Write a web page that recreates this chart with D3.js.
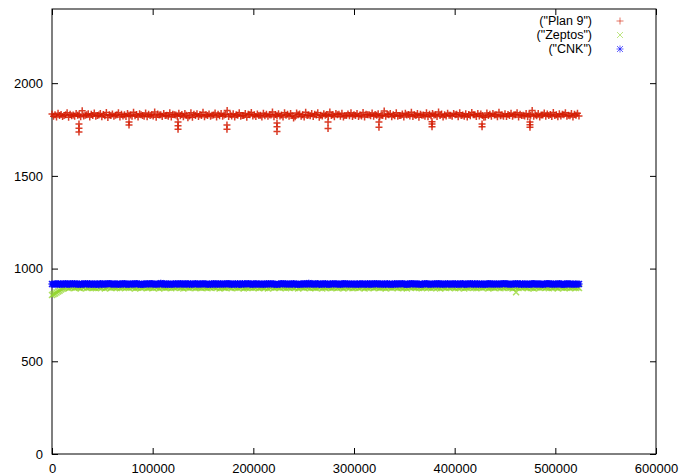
<!DOCTYPE html>
<html>
<head>
<meta charset="utf-8">
<script src="https://d3js.org/d3.v7.min.js"></script>
<style>
html,body{margin:0;padding:0;background:#fff;}
svg{display:block;}
text{font-family:"Liberation Sans",Arial,Helvetica,sans-serif;}
</style>
</head>
<body>
<svg id="chart" width="679" height="476"></svg>
<script>
// ---- data ----
const seriesNames = ['("Plan 9")', '("Zeptos")', '("CNK")'];
const xTicks = [0, 100000, 200000, 300000, 400000, 500000, 600000];
const yTicks = [0, 500, 1000, 1500, 2000];
// sample positions (iteration number): set A every 3000 from 0, set B every 3000 from 1500
const iterationsA = d3.range(0, 522001, 3000);
const iterationsB = d3.range(1500, 523501, 3000);

const plan9A = [
1834,1829,1838,1831,1826,1841,1833,1828,1836,1830,1851,1827,1835,1832,1839,1825,1837,1831,1842,1829,1834,1827,1840,1833,1830,
1836,1828,1843,1831,1835,1826,1839,1832,1829,1845,1834,1830,1837,1827,1841,1833,1828,1838,1831,1836,1814,1840,1832,1835,1829,
1843,1830,1834,1827,1839,1833,1837,1828,1853,1831,1835,1829,1840,1826,1836,1832,1842,1830,1834,1827,1838,1833,1829,1844,1831,
1835,1828,1841,1832,1837,1812,1839,1834,1830,1843,1828,1836,1833,1840,1827,1835,1831,1845,1829,1837,1832,1838,1826,1834,1841,
1830,1836,1828,1842,1833,1829,1839,1831,1835,1827,1850,1832,1837,1830,1840,1826,1834,1838,1831,1843,1829,1836,1833,1828,1841,
1832,1837,1829,1845,1834,1830,1838,1827,1836,1833,1840,1828,1835,1831,1842,1829,1837,1834,1816,1839,1832,1836,1830,1843,1828,
1835,1831,1838,1829,1841,1833,1827,1837,1832,1852,1830,1836,1828,1839,1834,1831,1842,1829,1835,1833,1840,1827,1836,1832,1838
];
const plan9B = [
1822,1818,1826,1820,1829,1816,1824,1821,1827,1819,1823,1830,1817,1825,1821,1828,1819,1824,1815,1826,1822,1829,1818,1823,1820,
1827,1821,1824,1817,1830,1822,1819,1826,1823,1816,1828,1820,1825,1822,1818,1829,1821,1824,1819,1827,1823,1816,1826,1820,1825,
1819,1826,1822,1828,1817,1824,1821,1831,1820,1823,1818,1827,1822,1825,1816,1829,1823,1820,1826,1818,1824,1821,1828,1819,1825,
1823,1817,1827,1821,1825,1819,1830,1822,1818,1826,1824,1820,1828,1816,1823,1827,1821,1825,1819,1829,1822,1818,1826,1824,1820,
1826,1820,1823,1818,1829,1824,1821,1827,1817,1825,1822,1830,1819,1824,1821,1826,1818,1828,1823,1820,1825,1816,1827,1822,1819,
1824,1828,1820,1825,1818,1823,1827,1821,1830,1819,1826,1822,1817,1824,1829,1820,1823,1826,1818,1825,1821,1828,1819,1824,1822,
1820,1825,1822,1829,1818,1826,1823,1819,1827,1821,1824,1817,1828,1822,1825,1820,1826,1819,1823,1830,1821,1824,1818,1827,1823
];
const plan9DipX = [26800,26800,26800,76500,76500,125200,125200,125200,173800,173800,223500,223500,223500,274200,274200,324800,324800,377500,377500,377500,427200,427200,474800,474800,474800];
const plan9DipY = [1780,1757,1736,1790,1775,1790,1770,1752,1775,1752,1785,1765,1740,1790,1755,1790,1762,1792,1780,1765,1780,1765,1790,1776,1762];

const zeptosA = [
858,866,876,887,896,901,899,903,900,898,902,904,899,901,897,903,900,902,898,905,901,899,903,900,902,
899,904,901,898,902,900,903,897,901,905,899,902,900,898,903,901,899,904,900,902,898,901,903,899,900,
902,898,901,904,899,903,900,897,902,901,905,899,900,903,898,901,902,899,904,900,898,902,901,903,899,
901,903,899,900,902,898,904,901,899,903,900,902,897,901,904,899,902,900,898,903,901,899,902,900,904,
900,902,898,903,901,899,905,900,902,898,901,903,899,900,904,902,898,901,903,899,900,902,901,898,903,
899,901,904,900,902,898,903,901,899,902,900,904,898,901,903,899,902,900,901,903,898,900,902,899,901,
903,900,898,902,901,904,899,900,903,898,902,901,899,904,900,902,898,901,903,900,899,902,900,901,899
];
const zeptosB = [
862,871,881,891,899,894,898,896,900,893,897,895,899,896,894,898,897,893,900,895,898,896,894,899,897,
895,899,893,897,896,900,894,898,895,897,893,899,896,898,894,897,900,895,893,898,896,899,894,897,895,
898,894,897,899,895,893,898,896,900,894,897,895,899,893,896,898,895,897,894,900,896,893,898,895,899,
896,898,894,897,900,895,893,899,896,898,894,897,895,900,893,896,899,894,898,895,897,893,899,896,894,
897,895,899,893,896,898,894,900,895,897,893,898,896,899,894,897,895,893,898,900,895,896,894,899,897,
894,898,896,893,899,895,897,900,894,896,898,893,897,899,895,894,898,896,900,893,897,895,899,894,896,
899,896,893,898,895,897,900,894,896,893,898,895,899,897,894,896,900,893,898,895,897,894,899,896,895
];
const zeptosDipX = [461000];
const zeptosDipY = [872];

const cnkA = [
917,915,919,916,918,914,920,917,916,918,915,919,917,914,918,916,920,915,917,919,916,918,914,917,919,
916,918,915,920,917,914,918,916,919,915,917,921,916,918,914,917,919,915,918,916,920,917,915,918,916,
919,915,917,918,914,920,916,917,919,915,918,916,914,919,917,920,915,918,916,917,914,919,916,918,915,
917,920,916,918,915,919,917,914,918,916,921,915,917,919,916,918,914,917,920,916,918,915,919,917,916,
918,915,919,916,917,914,920,916,918,915,917,919,916,914,918,917,920,915,916,919,917,918,914,916,919,
915,918,916,920,917,915,919,916,918,914,917,919,915,918,916,920,917,914,918,916,919,915,917,918,916,
919,916,917,915,918,920,916,917,914,919,915,918,916,917,920,915,918,916,919,914,917,918,916,915,917
];
const cnkB = [
916,918,914,917,919,915,917,920,916,914,918,916,919,915,917,913,918,916,920,917,915,918,916,919,914,
917,915,919,916,914,918,917,920,915,917,916,919,914,918,916,917,915,920,916,918,914,917,919,915,917,
918,916,914,919,917,915,918,916,920,914,917,919,916,915,918,917,914,919,916,918,915,917,920,916,914,
916,919,917,915,918,914,917,916,919,915,920,916,918,914,917,919,915,916,918,917,914,919,916,918,915,
917,914,918,916,919,915,917,920,916,918,914,917,915,919,916,918,917,914,920,916,918,915,917,919,916,
915,917,919,914,918,916,917,915,920,916,918,914,917,919,915,916,918,917,914,919,916,918,915,917,920,
918,915,917,919,916,914,918,917,915,919,916,918,914,917,920,915,916,918,917,914,919,916,918,915,917
];

// ---- drawing ----
(function () {
const svg = d3.select('#chart');
const mL = 52, mR = 656, mT = 9, mB = 454;

const x = d3.scaleLinear().domain([0, 600000]).range([mL, mR]);
const y = d3.scaleLinear().domain([0, 2400]).range([mB, mT]);

const plusPath = 'M-3.5,0H3.5M0,-3.5V3.5';
const crossPath = 'M-3,-3L3,3M-3,3L3,-3';
const starPath = plusPath + crossPath;

const series = [
  {name: seriesNames[0], xs: iterationsA.concat(iterationsB, plan9DipX), ys: plan9A.concat(plan9B, plan9DipY), color: '#d41a00', op: 0.85, path: plusPath},
  {name: seriesNames[1], xs: iterationsA.concat(iterationsB, zeptosDipX), ys: zeptosA.concat(zeptosB, zeptosDipY), color: '#93d62e', op: 0.75, path: crossPath},
  {name: seriesNames[2], xs: iterationsA.concat(iterationsB), ys: cnkA.concat(cnkB), color: '#0000ff', op: 0.9, path: starPath}
];

// axes (ticks inward, gnuplot-like)
const xAxis = d3.axisBottom(x).tickValues(xTicks).tickSizeInner(-6).tickSizeOuter(0).tickPadding(10).tickFormat(d3.format('d'));
const yAxis = d3.axisLeft(y).tickValues(yTicks).tickSizeInner(-6).tickSizeOuter(0).tickPadding(9).tickFormat(d3.format('d'));

const gx = svg.append('g').attr('transform', `translate(0,${mB})`).call(xAxis);
const gy = svg.append('g').attr('transform', `translate(${mL},0)`).call(yAxis);
[gx, gy].forEach(g => {
  g.select('.domain').remove();
  g.selectAll('text').attr('font-size', 13).attr('font-family', '"Liberation Sans",Arial,sans-serif').attr('fill', '#000');
  g.selectAll('line').attr('stroke', '#000');
});

// mirror ticks
const xTop = d3.axisTop(x).tickValues(xTicks).tickSizeInner(-6).tickSizeOuter(0).tickFormat('');
const yRight = d3.axisRight(y).tickValues(yTicks).tickSizeInner(-6).tickSizeOuter(0).tickFormat('');
const gt = svg.append('g').attr('transform', `translate(0,${mT})`).call(xTop);
const gr = svg.append('g').attr('transform', `translate(${mR},0)`).call(yRight);
[gt, gr].forEach(g => { g.select('.domain').remove(); g.selectAll('line').attr('stroke', '#000'); });

// border
svg.append('rect')
  .attr('x', mL).attr('y', mT)
  .attr('width', mR - mL).attr('height', mB - mT)
  .attr('fill', 'none').attr('stroke', '#000').attr('stroke-width', 1);

// points
series.forEach(s => {
  const g = svg.append('g');
  g.selectAll('path')
    .data(d3.range(s.xs.length))
    .join('path')
    .attr('d', s.path)
    .attr('transform', i => `translate(${x(s.xs[i])},${y(s.ys[i])})`)
    .attr('fill', 'none')
    .attr('stroke', s.color)
    .attr('stroke-width', 1.5)
    .attr('stroke-opacity', s.op);
});

// legend
const legendY = [21, 35, 49];
series.forEach((s, i) => {
  svg.append('text')
    .attr('x', 592).attr('y', legendY[i]).attr('dy', '0.34em')
    .attr('text-anchor', 'end').attr('font-size', 12.5).attr('fill', '#000')
    .text(s.name);
  svg.append('path')
    .attr('d', s.path)
    .attr('transform', `translate(620,${legendY[i]})`)
    .attr('fill', 'none').attr('stroke', s.color).attr('stroke-width', 1)
    .attr('stroke-opacity', 0.6);
});
})();
</script>
</body>
</html>
